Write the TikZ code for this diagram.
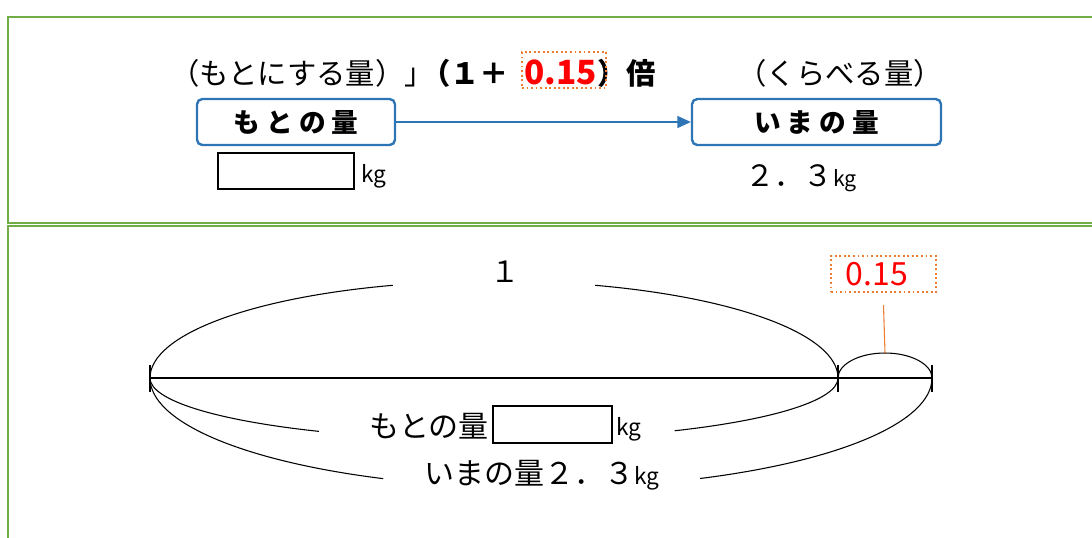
\documentclass[tikz,border=0pt]{standalone}
\usepackage{fontspec}
\setmainfont{Noto Sans CJK JP}
\usetikzlibrary{fit,arrows.meta}
\definecolor{pgreen}{HTML}{70AD47}
\definecolor{pblue}{HTML}{2E75B6}
\definecolor{porange}{HTML}{ED7D31}
\definecolor{pred}{HTML}{FF0000}
\begin{document}
\begin{tikzpicture}[x=0.75pt,y=-0.75pt,
  txt/.style={inner sep=0pt,font=\fontsize{22}{26}\selectfont},
  btxt/.style={inner sep=0pt,font=\fontsize{22}{26}\selectfont\bfseries},
  kgtxt/.style={inner sep=0pt,font=\fontsize{17}{20}\selectfont},
  panel/.style={draw=pgreen,line width=2pt},
  bluebox/.style={draw=pblue,line width=1.8pt,rounded corners=4pt,minimum height=34.5pt,inner sep=0pt,font=\fontsize{20}{24}\selectfont\bfseries},
  emptybox/.style={draw=black,line width=1.5pt,inner sep=0pt,minimum height=27pt},
  dotbox/.style={draw=porange,dotted,line width=1.4pt,inner sep=0pt},
  arcline/.style={draw=black,line width=0.8pt},
  tick/.style={draw=black,line width=1.5pt}]
\useasboundingbox (0,0) rectangle (1092,537);
% panels
\draw[panel] (1100,17) -- (8,17) -- (8,223) -- (1100,223);
\draw[panel] (1100,226) -- (8,226) -- (8,545);
% ---------- top panel ----------
\node[txt,anchor=base west] (p1) at (170,84) {（もとにする量）」};
\node[btxt,anchor=base west] (p2) at (421,84) {（１＋};
\node[btxt,anchor=base west,text=pred,font=\fontsize{25}{28}\selectfont\bfseries] (p3) at (524,84) {0.15};
\node[btxt,anchor=base west] (p4) at (597,84) {）倍};
\node[dotbox,minimum width=63pt,minimum height=27pt] (p3box) at (564,70) {};
\node[txt,anchor=base] (q1) at (840,84) {（くらべる量）};
\node[bluebox,minimum width=148.5pt] (moto) at (296,122) {も と の 量};
\node[bluebox,minimum width=186.75pt] (ima) at (816.5,122) {い ま の 量};
\draw[pblue,line width=0.8pt,-{Triangle[length=10pt,width=9pt]}] (moto.east) -- (ima.west);
\node[emptybox,minimum width=102pt] (eb1) at (286,171) {};
\node[kgtxt,anchor=west] (kg1) at (361,176) {kg};
\node[txt,anchor=base west] (v1) at (745,186) {２．３\fontsize{16}{20}\selectfont kg};
% ---------- bottom panel ----------
\coordinate (A) at (150,378);
\coordinate (B) at (838,378);
\coordinate (C) at (932,378);
\draw[black,line width=2.2pt] (A) -- (C);
\foreach \p in {A,B,C} \draw[tick] ([yshift=9.75pt]\p) -- ([yshift=-10.5pt]\p);
% big upper arc (1)
\draw[arcline] (A) arc[start angle=180,end angle=252.9,x radius=344,y radius=97];
\draw[arcline] (B) arc[start angle=360,end angle=287.1,x radius=344,y radius=97];
\node[txt] (one) at (505,272) {１};
% lower arc (もとの量)
\draw[arcline] (A) arc[start angle=180,end angle=120.6,x radius=344,y radius=62];
\draw[arcline] (B) arc[start angle=0,end angle=58.3,x radius=344,y radius=62];
% outer arc (いまの量)
\draw[arcline] (A) arc[start angle=180,end angle=113.8,x radius=391,y radius=110];
\draw[arcline] (C) arc[start angle=0,end angle=66.0,x radius=391,y radius=110];
% small arc (0.15)
\draw[arcline] (B) arc[start angle=180,end angle=360,x radius=47,y radius=25];
\coordinate (stop) at (885,353);
\node[txt,text=pred,inner sep=0pt,font=\fontsize{24}{26}\selectfont] (r15) at (877,274) {0.15};
\node[dotbox,minimum width=78.75pt,minimum height=27pt] (r15box) at (883.5,274) {};
\draw[porange,line width=0.8pt] (r15box.south |- 0,305) -- (stop);
% labels under line
\node[txt,anchor=east,font=\fontsize{22.5}{26}\selectfont] (mlab) at (489,426) {もとの量};
\node[emptybox,minimum width=89.25pt,minimum height=27.75pt] (eb2) at (552.5,424.5) {};
\node[kgtxt,anchor=west] (kg2) at (616,429) {kg};
\node[txt,font=\fontsize{22.5}{26}\selectfont] (ilab) at (542,475) {いまの量２．３\fontsize{17}{20}\selectfont kg};
\end{tikzpicture}
\end{document}
